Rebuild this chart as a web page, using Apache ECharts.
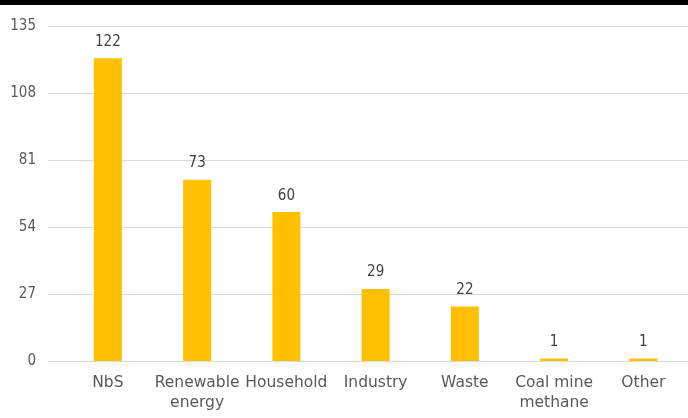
<!DOCTYPE html>
<html>
<head>
<meta charset="utf-8">
<script src="https://cdn.jsdelivr.net/npm/echarts@6/dist/echarts.min.js"></script>
<style>
html,body{margin:0;padding:0;background:#fff;}
#chart{width:688px;height:418px;}
</style>
</head>
<body>
<div id="chart"></div>
<script>
const categories = ['NbS', 'Renewable\nenergy', 'Household', 'Industry', 'Waste', 'Coal mine\nmethane', 'Other'];
const values = [122, 73, 60, 29, 22, 1, 1];
const yTicks = [0, 27, 54, 81, 108, 135];

const chart = echarts.init(document.getElementById('chart'), null, {renderer: 'canvas'});
const numFont = '"DejaVu Sans Condensed", "Liberation Sans Narrow", sans-serif';
const catFont = '"DejaVu Sans", sans-serif';
chart.setOption({
  animation: false,
  backgroundColor: '#ffffff',
  graphic: [{
    type: 'rect', left: 0, top: 0,
    shape: {x: 0, y: 0, width: 688, height: 5},
    style: {fill: '#000000'}
  }],
  grid: [
    {left: 48, right: 0, top: 26, height: 335, containLabel: false},
    {left: 63.25, width: 626.5, top: 26, height: 335, containLabel: false}
  ],
  xAxis: [
    {type: 'category', gridIndex: 0, data: categories, show: false},
    {
      type: 'category', gridIndex: 1, data: categories,
      axisLine: {show: false}, axisTick: {show: false},
      axisLabel: {color: '#595959', fontSize: 15.5, fontFamily: catFont, margin: 12, lineHeight: 20, interval: 0}
    }
  ],
  yAxis: [
    {
      type: 'value', gridIndex: 0, min: yTicks[0], max: yTicks[yTicks.length - 1], interval: 27,
      axisLine: {show: false}, axisTick: {show: false},
      axisLabel: {color: '#595959', fontSize: 15, fontFamily: numFont, margin: 12},
      splitLine: {lineStyle: {color: '#D9D9D9', width: 1}}
    },
    {
      type: 'value', gridIndex: 1, min: yTicks[0], max: yTicks[yTicks.length - 1], interval: 27,
      show: false, splitLine: {show: false}
    }
  ],
  series: [{
    type: 'bar', xAxisIndex: 1, yAxisIndex: 1,
    data: values, barWidth: 28,
    itemStyle: {color: '#FFC000'},
    label: {show: true, position: 'top', distance: 9, color: '#404040', fontSize: 15, fontFamily: numFont}
  }]
});
</script>
</body>
</html>
